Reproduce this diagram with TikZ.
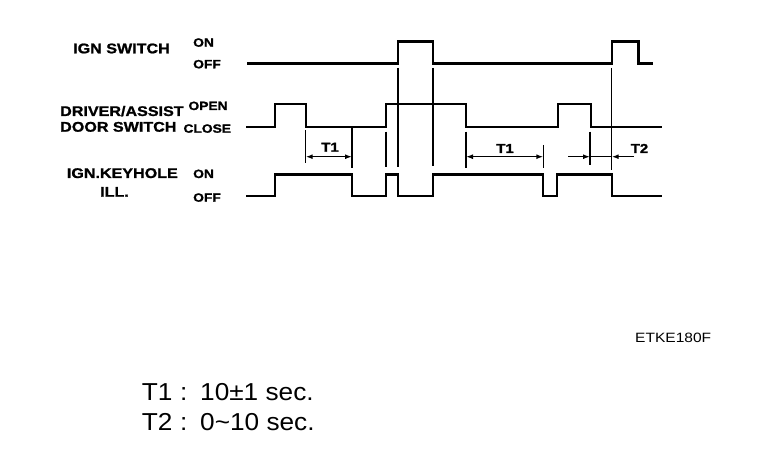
\documentclass[tikz,border=0pt]{standalone}
\usepackage{fontspec}
\setmainfont{Liberation Sans}[FakeStretch=1.15, BoldFeatures={FakeBold=1.3}]
\newfontfamily\plainfont{Liberation Sans}[FakeStretch=1.07]
\usetikzlibrary{arrows.meta}
\tikzset{
  wave/.style={line width=2.1pt, line join=miter},
  guide/.style={line width=1.5pt},
  dimline/.style={line width=1.4pt},
  tipend/.style={dimline, -{Latex[length=7pt,width=5pt]}},
  tipboth/.style={dimline, {Latex[length=7pt,width=5pt]}-{Latex[length=7pt,width=5pt]}},
  biglab/.style={anchor=base west, inner sep=0pt, font=\bfseries\fontsize{14}{14}\selectfont},
  lvllab/.style={anchor=base west, inner sep=0pt, font=\bfseries\fontsize{12}{12}\selectfont},
  tlab/.style={anchor=base, inner sep=0pt, font=\bfseries\fontsize{13}{13}\selectfont},
  notelab/.style={anchor=base west, inner sep=0pt, font=\plainfont\fontsize{24.5}{24.5}\selectfont},
}
\begin{document}
\begin{tikzpicture}[x=1pt,y=-1pt]
\useasboundingbox (0,0) rectangle (768,470);
% signal names
\node[biglab] (ign) at (73,53.3) {IGN SWITCH};
\node[lvllab] (ignon) at (193,46.7) {ON};
\node[lvllab] (ignoff) at (193,68.3) {OFF};
\node[biglab] (drv) at (60,116) {DRIVER/ASSIST};
\node[lvllab] (open) at (188.3,110) {OPEN};
\node[biglab] (door) at (60,131.7) {DOOR SWITCH};
\node[lvllab] (close) at (183.3,132.7) {CLOSE};
\node[biglab] (key) at (66.7,178) {IGN.KEYHOLE};
\node[lvllab] (keyon) at (193,178) {ON};
\node[biglab] (ill) at (100,196.7) {ILL.};
\node[lvllab] (keyoff) at (193,201.7) {OFF};
% waveforms
\draw[wave] (247,63.5) -- (398,63.5) -- (398,41.5) -- (433,41.5) -- (433,63.5)
  -- (611.7,63.5) -- (611.7,41.5) -- (638.5,41.5) -- (638.5,63.5) -- (653,63.5);
\draw[wave] (246,126.7) -- (275,126.7) -- (275,104.3) -- (305.7,104.3) -- (305.7,126.7)
  -- (386,126.7) -- (386,104.3) -- (466,104.3) -- (466,126.7)
  -- (558,126.7) -- (558,104.3) -- (591,104.3) -- (591,126.7) -- (662,126.7);
\draw[wave] (246,196) -- (275,196) -- (275,174.5) -- (352,174.5) -- (352,196)
  -- (386,196) -- (386,174.5) -- (398,174.5) -- (398,196) -- (433,196) -- (433,174.5)
  -- (543.3,174.5) -- (543.3,196) -- (557,196) -- (557,174.5) -- (611.7,174.5)
  -- (611.7,196) -- (662,196);
% guide lines
\draw[guide] (305.7,130) -- (305.7,163);
\draw[guide] (352,127) -- (352,168);
\draw[guide] (386,131.7) -- (386,167);
\draw[guide] (398,68) -- (398,167);
\draw[guide] (433,68) -- (433,166);
\draw[guide] (466,131.7) -- (466,168);
\draw[guide] (543.3,145) -- (543.3,168);
\draw[guide] (590,131.7) -- (590,165);
\draw[guide] (611.7,68) -- (611.7,170);
% dimension arrows
\coordinate (t1a) at (305.7,156.7);
\coordinate (t1b) at (352,156.7);
\coordinate (t1c) at (466,156.7);
\coordinate (t1d) at (543.3,156.7);
\coordinate (t2l) at (568,156.7);
\coordinate (t2a) at (590,156.7);
\coordinate (t2b) at (611.7,156.7);
\coordinate (t2r) at (634,156.7);
\draw[tipboth] (t1a) -- (t1b);
\draw[tipboth] (t1c) -- (t1d);
\draw[tipend] (t2l) -- (t2a);
\draw[dimline] (t2a) -- (t2b);
\draw[tipend] (t2r) -- (t2b);
\node[tlab] (lt1a) at (330,151.7) {T1};
\node[tlab] (lt1b) at (505,153) {T1};
\node[tlab] (lt2) at (639.5,153) {T2};
% figure code and notes
\node[anchor=base west, inner sep=0pt, font=\fontsize{13.5}{13.5}\selectfont] (code) at (635,342.7) {ETKE180F};
\node[notelab] (n1a) at (141.7,400) {T1};
\node[notelab] (n1b) at (180,400) {:};
\node[notelab] (n1c) at (200,400) {10±1 sec.};
\node[notelab] (n2a) at (141.7,430) {T2};
\node[notelab] (n2b) at (180,430) {:};
\node[notelab] (n2c) at (200,430) {0\textasciitilde 10 sec.};
\end{tikzpicture}
\end{document}
